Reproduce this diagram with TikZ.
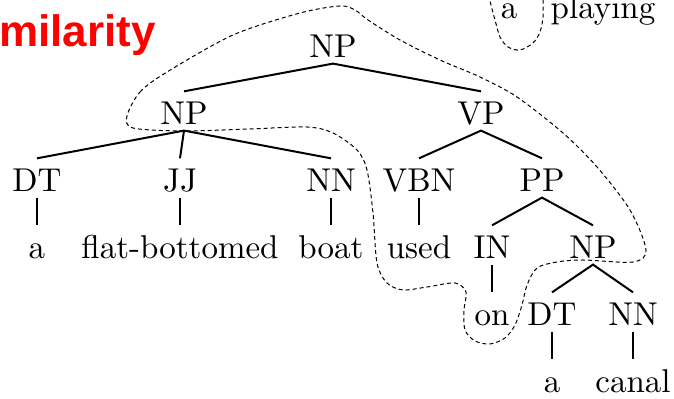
\documentclass[tikz,border=0pt]{standalone}
\usepackage{fontspec}
\usepackage{tikz}
\newfontfamily\slidefont{Liberation Sans}
\definecolor{slidered}{RGB}{255,0,0}

\begin{document}
\begin{tikzpicture}[
  x=0.5pt, y=-0.5pt,
  cat/.style={font=\fontsize{10}{12}\selectfont, scale=1.65, transform shape,
    inner sep=0pt, text height=10pt, text depth=1.5pt, anchor=base},
  branch/.style={line width=1pt},
  region/.style={dash pattern=on 2pt off 1.5pt, line width=0.5pt},
  heading/.style={font=\slidefont\bfseries\fontsize{22}{26}\selectfont,
    text=slidered, inner sep=0pt, anchor=base west}
]
\useasboundingbox (0,0) rectangle (674,399);
\clip (0,0) rectangle (674,399);

\node[heading] (sim) at (-1,47) {milarity};

% words from the sentence above
\node[cat] (topa) at (509,19) {a};
\node[cat] (topplaying) at (603,19) {playing};

% parse tree
\node[cat] (np0) at (333,58) {NP};
\node[cat] (np1) at (184,125) {NP};
\node[cat] (vp) at (481,125) {VP};
\node[cat] (dt1) at (37,192) {DT};
\node[cat] (jj) at (180,192) {JJ};
\node[cat] (nn1) at (331,192) {NN};
\node[cat] (vbn) at (419,192) {VBN};
\node[cat] (pp) at (542,192) {PP};
\node[cat] (wa) at (37,259) {a};
\node[cat] (wflat) at (180,259) {flat-bottomed};
\node[cat] (wboat) at (331,259) {boat};
\node[cat] (wused) at (419,259) {used};
\node[cat] (in) at (492,259) {IN};
\node[cat] (np2) at (593,259) {NP};
\node[cat] (won) at (492,326) {on};
\node[cat] (dt2) at (552,326) {DT};
\node[cat] (nn2) at (633,326) {NN};
\node[cat] (wa2) at (552,393) {a};
\node[cat] (wcanal) at (633,393) {canal};

\draw[branch] (np1.north) -- (np0.south) -- (vp.north);
\draw[branch] (np1.south) -- (dt1.north);
\draw[branch] (np1.south) -- (jj.north);
\draw[branch] (np1.south) -- (nn1.north);
\draw[branch] (vbn.north) -- (vp.south) -- (pp.north);
\draw[branch] (in.north) -- (pp.south) -- (np2.north);
\draw[branch] (dt2.north) -- (np2.south) -- (nn2.north);
\draw[branch] (dt1.south) -- (wa.north);
\draw[branch] (jj.south) -- (wflat.north);
\draw[branch] (nn1.south) -- (wboat.north);
\draw[branch] (vbn.south) -- (wused.north);
\draw[branch] (in.south) -- (won.north);
\draw[branch] (dt2.south) -- (wa2.north);
\draw[branch] (nn2.south) -- (wcanal.north);

% dashed regions
\draw[region] plot[smooth cycle] coordinates {
  (127,116) (140,92) (167,72) (233,35) (300,13) (340,6) (355,10) (368,20)
  (400,40) (440,60) (480,77) (517,97) (563,133) (597,167) (630,210) (646,250)
  (633,262) (583,260) (557,262) (537,268) (527,285) (522,305) (515,325)
  (505,338) (490,344) (475,341) (465,330) (464,310) (466,292) (455,283)
  (427,287) (403,290) (387,283) (377,263) (373,213) (367,170) (357,150)
  (333,133) (307,127) (250,129) (183,131) (133,128)};
\draw[region] plot[smooth] coordinates {
  (487,-12) (491,5) (495,20) (500,37) (508,47) (520,50) (533,43) (540,32)
  (543,17) (543,0) (543,-12)};
\end{tikzpicture}
\end{document}
